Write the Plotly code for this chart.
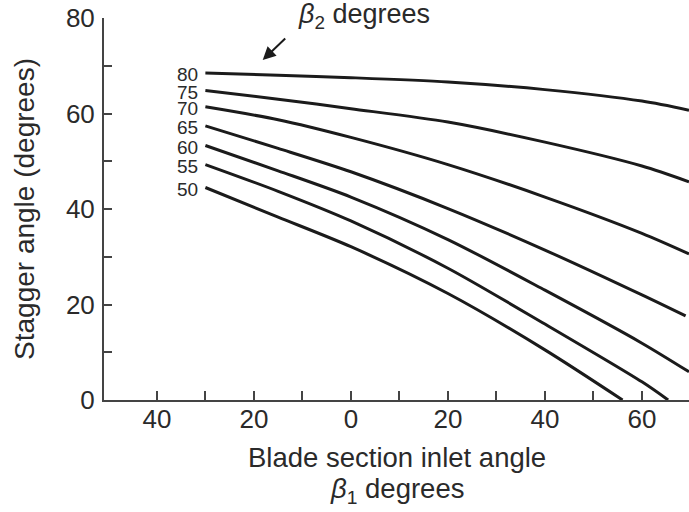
import plotly.graph_objects as go

# Blade section inlet angle beta1 (deg) where each curve was read
beta1_80 = [-30, -15, 0, 20, 40, 60, 69.7]
stagger_80 = [68.5, 68.0, 67.5, 66.6, 65.0, 62.6, 60.7]
beta1_75 = [-30, -15, 0, 20, 40, 60, 69.7]
stagger_75 = [64.8, 63.0, 61.0, 58.2, 54.0, 49.0, 45.7]
beta1_70 = [-30, -15, 0, 20, 40, 60, 69.7]
stagger_70 = [61.4, 58.7, 55.0, 49.3, 42.5, 34.9, 30.6]
beta1_65 = [-30, -15, 0, 20, 40, 60, 69.0]
stagger_65 = [57.4, 52.7, 47.8, 40.1, 31.4, 22.0, 17.6]
beta1_60 = [-30, -15, 0, 20, 40, 60, 69.7]
stagger_60 = [53.3, 48.0, 42.5, 33.6, 23.0, 11.9, 5.9]
beta1_55 = [-30, -15, 0, 20, 40, 60, 65.4]
stagger_55 = [49.3, 43.7, 37.5, 27.6, 15.9, 3.8, 0.0]
beta1_50 = [-30, -15, 0, 20, 40, 56.0]
stagger_50 = [44.5, 38.3, 32.1, 22.3, 10.5, 0.0]

beta2_labels = ["80", "75", "70", "65", "60", "55", "50"]
x_series = [beta1_80, beta1_75, beta1_70, beta1_65, beta1_60, beta1_55, beta1_50]
y_series = [stagger_80, stagger_75, stagger_70, stagger_65, stagger_60, stagger_55, stagger_50]

x_tickvals = [-40, -20, 0, 20, 40, 60]
x_ticktext = ["40", "20", "0", "20", "40", "60"]
x_minor = [-30, -10, 10, 30, 50]
y_tickvals = [0, 20, 40, 60, 80]
y_minor = [10, 30, 50, 70]

FONT = "Liberation Sans, Arial, Helvetica, sans-serif"
LINE = "#1b1b1b"
AX = "#444444"
TXT = "#2a2a2a"

fig = go.Figure()
annotations = []
for lab, xs, ys in zip(beta2_labels, x_series, y_series):
    fig.add_trace(go.Scatter(x=xs, y=ys, mode="lines",
                             line=dict(color=LINE, width=3, shape="spline", smoothing=0.8),
                             showlegend=False, hoverinfo="skip"))
    annotations.append(dict(x=xs[0], y=ys[0], xref="x", yref="y", text=lab,
                            showarrow=False, xanchor="right", yanchor="middle",
                            xshift=-5, yshift=-2,
                            font=dict(family=FONT, size=19, color=TXT)))

# beta2 header and arrow
annotations.append(dict(x=0.4444, y=1.0052, xref="paper", yref="paper",
                        text="<i>β</i><sub>2</sub> degrees", showarrow=False,
                        xanchor="center", yanchor="middle",
                        font=dict(family=FONT, size=27, color=TXT)))
annotations.append(dict(x=0.2713, y=0.890, xref="paper", yref="paper", text="",
                        showarrow=True, ax=24, ay=-23, arrowhead=2, arrowsize=1.3,
                        arrowwidth=2, arrowcolor=LINE))
# axis titles
annotations.append(dict(x=-0.1368, y=0.5, xref="paper", yref="paper",
                        text="Stagger angle (degrees)", textangle=-90, showarrow=False,
                        xanchor="center", yanchor="middle",
                        font=dict(family=FONT, size=28, color=TXT)))
annotations.append(dict(x=0.5, y=-0.1518, xref="paper", yref="paper",
                        text="Blade section inlet angle",
                        showarrow=False, xanchor="center", yanchor="middle",
                        font=dict(family=FONT, size=27.5, color=TXT)))
annotations.append(dict(x=0.5, y=-0.236, xref="paper", yref="paper",
                        text="<i>β</i><sub>1</sub> degrees",
                        showarrow=False, xanchor="center", yanchor="middle",
                        font=dict(family=FONT, size=27.5, color=TXT)))

fig.update_layout(
    width=689, height=512,
    margin=dict(l=104, r=0, t=18, b=112, autoexpand=False),
    plot_bgcolor="white", paper_bgcolor="white",
    annotations=annotations,
    xaxis=dict(range=[-50.9, 69.7], showgrid=False, zeroline=False, automargin=False,
               showline=True, linecolor=AX, linewidth=2,
               tickmode="array", tickvals=x_tickvals, ticktext=x_ticktext,
               ticks="inside", ticklen=9, tickwidth=2, tickcolor=AX,
               ticklabelstandoff=-5,
               tickfont=dict(family=FONT, size=26, color=TXT),
               minor=dict(tickvals=x_minor, ticks="inside", ticklen=9,
                          tickwidth=2, tickcolor=AX, showgrid=False)),
    yaxis=dict(range=[0, 80], showgrid=False, zeroline=False, automargin=False,
               showline=True, linecolor=AX, linewidth=2,
               tickmode="array", tickvals=y_tickvals,
               ticks="inside", ticklen=8, tickwidth=2, tickcolor=AX,
               ticklabelstandoff=2,
               tickfont=dict(family=FONT, size=26, color=TXT),
               minor=dict(tickvals=y_minor, ticks="inside", ticklen=8,
                          tickwidth=2, tickcolor=AX, showgrid=False)),
)

fig.write_html("out.html", config={"displayModeBar": False},
               post_script="document.body.style.margin='0px';document.body.style.padding='0px';")
